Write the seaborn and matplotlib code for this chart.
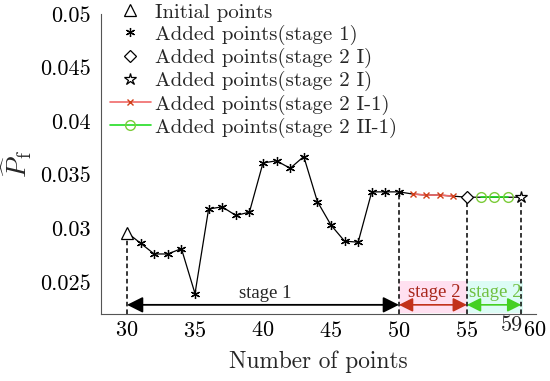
import matplotlib
matplotlib.use('Agg')
import numpy as np
import pandas as pd
import seaborn as sns
import matplotlib.pyplot as plt
from matplotlib.patches import Rectangle

# values
n_stage1 = [31, 32, 33, 34, 35, 36, 37, 38, 39, 40, 41, 42, 43, 44, 45, 46, 47, 48, 49, 50]
pf_stage1 = [0.0286, 0.0276, 0.0276, 0.0281, 0.0239, 0.0318, 0.0320, 0.0312, 0.0315, 0.0361,
             0.0363, 0.0356, 0.0367, 0.0325, 0.0303, 0.0288, 0.0287, 0.0334, 0.0334, 0.0334]
n_init = [30]
pf_init = [0.0296]
n_red = [50, 51, 52, 53, 54, 55]
pf_red = [0.0334, 0.0332, 0.0331, 0.0331, 0.0330, 0.0329]
n_green = [55, 56, 57, 58, 59]
pf_green = [0.0329, 0.0329, 0.0329, 0.0329, 0.0329]
n_diamond = [55]
pf_diamond = [0.0329]
n_star = [59]
pf_star = [0.0329]

xticks = [30, 35, 40, 45, 50, 55, 60]
yticks = [0.025, 0.03, 0.035, 0.04, 0.045, 0.05]
ytick_labels = ['0.025', '0.03', '0.035', '0.04', '0.045', '0.05']
stage_bounds = [30, 50, 55, 59]

labels = ['Initial points', 'Added points(stage 1)', 'Added points(stage 2 I)',
          'Added points(stage 2 I)', 'Added points(stage 2 I-1)', 'Added points(stage 2 II-1)']

sns.set_style('white')
plt.rcParams['font.family'] = 'serif'
plt.rcParams['font.serif'] = ['cmr10']
plt.rcParams['mathtext.fontset'] = 'cm'
plt.rcParams['axes.unicode_minus'] = False
plt.rcParams['axes.formatter.use_mathtext'] = True

fig = plt.figure(figsize=(5.5, 3.81), dpi=100)
ax = fig.add_axes([0.184, 0.176, 0.791, 0.787])

# full black curve
all_n = n_init + n_stage1 + n_red[1:] + n_green[1:]
all_pf = pf_init + pf_stage1 + pf_red[1:] + pf_green[1:]
curve = pd.DataFrame({'n': all_n, 'pf': all_pf})
sns.lineplot(data=curve, x='n', y='pf', color='k', lw=0.9, ax=ax, zorder=3)

# light highlights behind stage 2 parts
ax.add_patch(Rectangle((50, 0.0221), 5, 0.0030, color='#ffe0f0', lw=0, zorder=0))
ax.add_patch(Rectangle((55, 0.0221), 4.1, 0.0030, color='#dcfcf5', lw=0, zorder=0))

# dashed stage bounds
all_map = dict(zip(all_n, all_pf))
for b in stage_bounds:
    ax.plot([b, b], [0.022, all_map[b]], ls=(0, (3, 2)), color='k', lw=1.1, zorder=2)

sns.lineplot(x=n_init, y=pf_init, marker='^', ms=8, mfc='white', mec='k', mew=0.9,
             linestyle='none', label=labels[0], ax=ax, zorder=5)
sns.lineplot(x=n_stage1, y=pf_stage1, marker=(6, 2, 0), ms=6.5, mec='k', mew=0.9,
             linestyle='none', label=labels[1], ax=ax, zorder=5)
sns.lineplot(x=n_diamond, y=pf_diamond, marker='D', ms=6, mfc='white', mec='k', mew=0.9,
             linestyle='none', label=labels[2], ax=ax, zorder=5)
sns.lineplot(x=n_star, y=pf_star, marker='*', ms=9, mfc='white', mec='k', mew=0.9,
             linestyle='none', label=labels[3], ax=ax, zorder=5)
sns.lineplot(x=n_red[1:-1], y=pf_red[1:-1], color='#f06a6a', lw=1.2, marker='x', ms=5,
             mec='#d0401a', mew=1.0, label=labels[4], ax=ax, zorder=4)
sns.lineplot(x=n_green[1:-1], y=pf_green[1:-1], color='#22dd22', lw=1.2, marker='o', ms=7,
             mfc='none', mec='#7ccc3a', mew=1.0, label=labels[5], ax=ax, zorder=4)

# stage arrows
ya = 0.02285
ax.annotate('', xy=(30, ya), xytext=(50, ya),
            arrowprops=dict(arrowstyle='<|-|>', color='k', lw=1.3, mutation_scale=24,
                            shrinkA=0, shrinkB=0), zorder=6)
ax.annotate('', xy=(50, ya), xytext=(55, ya),
            arrowprops=dict(arrowstyle='<|-|>', color='#c2321a', lw=1.2, mutation_scale=21,
                            shrinkA=0, shrinkB=0), zorder=6)
ax.annotate('', xy=(55, ya), xytext=(59, ya),
            arrowprops=dict(arrowstyle='<|-|>', color='#44d022', lw=1.2, mutation_scale=21,
                            shrinkA=0, shrinkB=0), zorder=6)
ax.text(40.2, 0.0239, 'stage 1', family='Liberation Serif', fontsize=13.5,
        ha='center', va='center')
ax.text(52.6, 0.0240, 'stage 2', family='Liberation Serif', fontsize=13.5,
        ha='center', va='center', color='#a8261a')
ax.text(57.1, 0.0240, 'stage 2', family='Liberation Serif', fontsize=13.5,
        ha='center', va='center', color='#70c040')

ax.set_xlim(28.1, 60.1)
ax.set_ylim(0.022, 0.05)
ax.set_xticks(xticks)
ax.set_yticks(yticks)
ax.set_yticklabels(ytick_labels)
ax.tick_params(axis='both', labelsize=16, colors='k')
ax.tick_params(axis='x', direction='in', length=4, width=0.7, color='#555555', pad=5)
ax.tick_params(axis='y', direction='out', length=4, width=0.7, color='#555555')
ax.text(59.15, 0.02097, '59', fontsize=16, ha='right', va='center', clip_on=False)

for s in ['top', 'right']:
    ax.spines[s].set_visible(False)
for s in ['left', 'bottom']:
    ax.spines[s].set_color('#555555')
    ax.spines[s].set_linewidth(0.8)

ax.set_xlabel('Number of points', fontsize=16.8, labelpad=7)
ax.set_ylabel(r'$\widehat{P}_{\rm f}$', fontsize=20, labelpad=4)

ax.legend(loc='upper left', bbox_to_anchor=(0.02, 1.037), frameon=False, fontsize=15,
          handlelength=1.97, handletextpad=0.2, labelspacing=0.15, borderaxespad=0,
          borderpad=0)

fig.savefig('out.png', dpi=100)
